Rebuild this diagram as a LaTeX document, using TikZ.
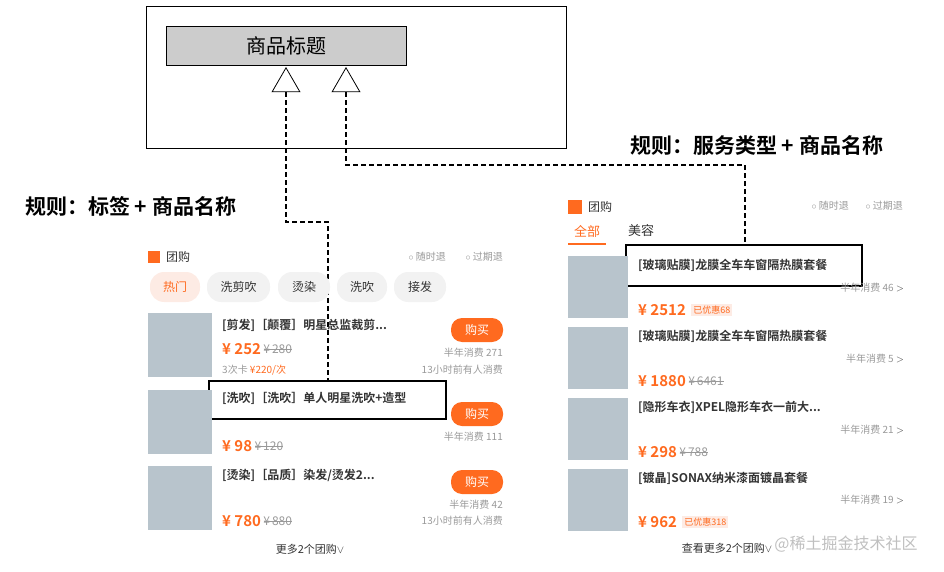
\documentclass[tikz,border=0pt]{standalone}
\usepackage{fontspec}
\setmainfont{Noto Sans CJK SC}[BoldFont={Noto Sans CJK SC Bold}]
\usetikzlibrary{shapes.geometric}
\definecolor{og}{HTML}{FF6A1F}
\definecolor{tg}{HTML}{999999}
\definecolor{tk}{HTML}{333333}
\definecolor{pill}{HTML}{F2F2F2}
\definecolor{pinkp}{HTML}{FDEBE4}
\definecolor{img}{HTML}{B8C4CC}
\begin{document}
\begin{tikzpicture}[x=1pt,y=-1pt,
  tx/.style={inner sep=0pt,anchor=west,text=tk,font=\fontsize{12}{12}\selectfont\bfseries},
  sm/.style={inner sep=0pt,text=tg,font=\fontsize{10}{10}\selectfont},
  price/.style={inner sep=0pt,anchor=west,text=og,font=\fontsize{15}{15}\selectfont\bfseries},
  old/.style={inner sep=0pt,anchor=west,text=tg,font=\fontsize{12}{12}\selectfont},
  pil/.style={fill=pill,rounded corners=14pt,minimum height=30pt,inner sep=0pt,font=\fontsize{12}{12}\selectfont,text=tk},
  buy/.style={fill=og,rounded corners=11pt,minimum width=52pt,minimum height=24pt,inner sep=0pt,text=white,font=\fontsize{12}{12}\selectfont},
  im/.style={fill=img,minimum width=64pt,minimum height=64pt,inner sep=0pt},
  imr/.style={fill=img,minimum width=60pt,minimum height=62pt,inner sep=0pt},
  tri/.style={draw,thick,isosceles triangle,shape border rotate=90,isosceles triangle apex angle=60,minimum height=24pt,inner sep=0pt,fill=white},
  rule/.style={inner sep=0pt,anchor=west,font=\fontsize{21}{21}\selectfont\bfseries},
  dl/.style={line width=1.2pt,dashed,dash pattern=on 5pt off 3pt},
  hl/.style={draw,very thick,inner sep=0pt}]
\useasboundingbox (0,0) rectangle (944,572);
% top frame
\node[draw,thick,minimum width=420pt,minimum height=142pt,inner sep=0pt] (frame) at (356,77) {};
\node[draw,thick,fill=black!20,minimum width=240pt,minimum height=39pt,inner sep=0pt,font=\fontsize{20}{20}\selectfont] (title) at (286,45.5) {商品标题};
\node[tri,anchor=apex] (t1) at (286,67) {};
\node[tri,anchor=apex] (t2) at (346,67) {};
\node[rule] (r1) at (25,206) {规则：标签\ +\ 商品名称};
\node[rule] (r2) at (630,145) {规则：服务类型\ +\ 商品名称};
% highlight boxes
\node[hl,minimum width=237pt,minimum height=38pt] (b1) at (327.5,400) {};
\node[hl,minimum width=236pt,minimum height=41pt] (b2) at (744,265.5) {};
\coordinate (c1) at (286,222);
\coordinate (c2) at (328,222);
\coordinate (c3) at (346,165);
\coordinate (c4) at (745,165);
\draw[dl] (t1.south) -- (c1) -- (c2) -- (b1.north -| c2);
\draw[dl] (t2.south) -- (c3) -- (c4) -- (b2.north -| c4);
% left panel
\node[fill=og,minimum size=12pt,inner sep=0pt] (lo) at (154,257) {};
\node[tx,font=\fontsize{12}{12}\selectfont] (lh) at (166,257) {团购};
\node[sm,anchor=east] (lr2) at (503,257) {$\circ$ 过期退};
\node[sm,anchor=east] (lr1) at (446,257) {$\circ$ 随时退};
\node[pil,fill=pinkp,text=og,minimum width=50pt] (p1) at (175,287) {热门};
\node[pil,minimum width=63pt] (p2) at (238.5,287) {洗剪吹};
\node[pil,minimum width=52pt] (p3) at (304,287) {烫染};
\node[pil,minimum width=50pt] (p4) at (362,287) {洗吹};
\node[pil,minimum width=52pt] (p5) at (420,287) {接发};
\node[im] (li1) at (180,345) {};
\node[im] (li2) at (180,422) {};
\node[im] (li3) at (180,498) {};
\node[tx] (lt1) at (222,325) {[剪发]［颠覆］明星总监裁剪...};
\node[tx] (lt2) at (222,398) {[洗吹]［洗吹］单人明星洗吹+造型};
\node[tx] (lt3) at (222,475) {[烫染]［品质］染发/烫发2...};
\node[price] (lp1) at (222,349) {¥ 252};
\node[old] (lo1) at (lp1.east) {\,¥\,280};
\draw[tg] (lo1.west) ++(3pt,0) -- (lo1.east);
\node[sm,anchor=west] (lc1) at (222,370) {3次卡 \textcolor{og}{¥220/次}};
\node[price] (lp2) at (222,446) {¥ 98};
\node[old] (lo2) at (lp2.east) {\,¥\,120};
\draw[tg] (lo2.west) ++(3pt,0) -- (lo2.east);
\node[price] (lp3) at (222,521) {¥ 780};
\node[old] (lo3) at (lp3.east) {\,¥\,880};
\draw[tg] (lo3.west) ++(3pt,0) -- (lo3.east);
\node[buy] (bb1) at (477,330) {购买};
\node[buy] (bb2) at (477,414) {购买};
\node[buy] (bb3) at (477,482) {购买};
\node[sm,anchor=east] (ls1) at (503,353) {半年消费 271};
\node[sm,anchor=east] (lu1) at (503,370) {13小时前有人消费};
\node[sm,anchor=east] (ls2) at (503,437) {半年消费 111};
\node[sm,anchor=east] (ls3) at (503,505) {半年消费 42};
\node[sm,anchor=east] (lu3) at (503,521) {13小时前有人消费};
\node[sm,text=tk,font=\fontsize{11}{11}\selectfont] (lm) at (310,549) {更多2个团购$\vee$};
% right panel
\node[fill=og,minimum size=14pt,inner sep=0pt] (ro) at (575,207) {};
\node[tx,font=\fontsize{12}{12}\selectfont] (rh) at (588,207) {团购};
\node[sm,anchor=east] (rr2) at (903,206) {$\circ$ 过期退};
\node[sm,anchor=east] (rr1) at (849,206) {$\circ$ 随时退};
\node[inner sep=0pt,text=og,font=\fontsize{13}{13}\selectfont] (ra) at (587,231) {全部};
\node[inner sep=0pt,text=tk,font=\fontsize{13}{13}\selectfont] (rb) at (641,231) {美容};
\draw[og,line width=2.5pt] (568,244) -- (606,244);
\node[imr] (ri1) at (598,287) {};
\node[imr] (ri2) at (598,358) {};
\node[imr] (ri3) at (598,429) {};
\node[imr] (ri4) at (598,500) {};
\node[tx] (rt1) at (638,265) {[玻璃贴膜]龙膜全车车窗隔热膜套餐};
\node[tx] (rt2) at (638,336) {[玻璃贴膜]龙膜全车车窗隔热膜套餐};
\node[tx] (rt3) at (638,407) {[隐形车衣]XPEL隐形车衣一前大...};
\node[tx] (rt4) at (638,478) {[镀晶]SONAX纳米漆面镀晶套餐};
\node[sm,anchor=east] (rs1) at (904,288) {半年消费 46 \textcolor{tk}{$>$}};
\node[sm,anchor=east] (rs2) at (904,359) {半年消费 5 \textcolor{tk}{$>$}};
\node[sm,anchor=east] (rs3) at (904,430) {半年消费 21 \textcolor{tk}{$>$}};
\node[sm,anchor=east] (rs4) at (904,500) {半年消费 19 \textcolor{tk}{$>$}};
\node[price] (rp1) at (638,310) {¥ 2512};
\node[inner sep=2pt,anchor=west,fill=pinkp,text=og,font=\fontsize{9}{9}\selectfont] (rd1) at ([xshift=5pt]rp1.east) {已优惠68};
\node[price] (rp2) at (638,381) {¥ 1880};
\node[old] (ro2) at (rp2.east) {\,¥\,6461};
\draw[tg] (ro2.west) ++(3pt,0) -- (ro2.east);
\node[price] (rp3) at (638,452) {¥ 298};
\node[old] (ro3) at (rp3.east) {\,¥\,788};
\draw[tg] (ro3.west) ++(3pt,0) -- (ro3.east);
\node[price] (rp4) at (638,522) {¥ 962};
\node[inner sep=2pt,anchor=west,fill=pinkp,text=og,font=\fontsize{9}{9}\selectfont] (rd4) at ([xshift=5pt]rp4.east) {已优惠318};
\node[sm,text=tk,font=\fontsize{11}{11}\selectfont] (rm) at (727,548) {查看更多2个团购$\vee$};
\node[inner sep=0pt,text=black!25,font=\fontsize{16}{16}\selectfont] (wm) at (846,544) {@稀土掘金技术社区};
\end{tikzpicture}
\end{document}
